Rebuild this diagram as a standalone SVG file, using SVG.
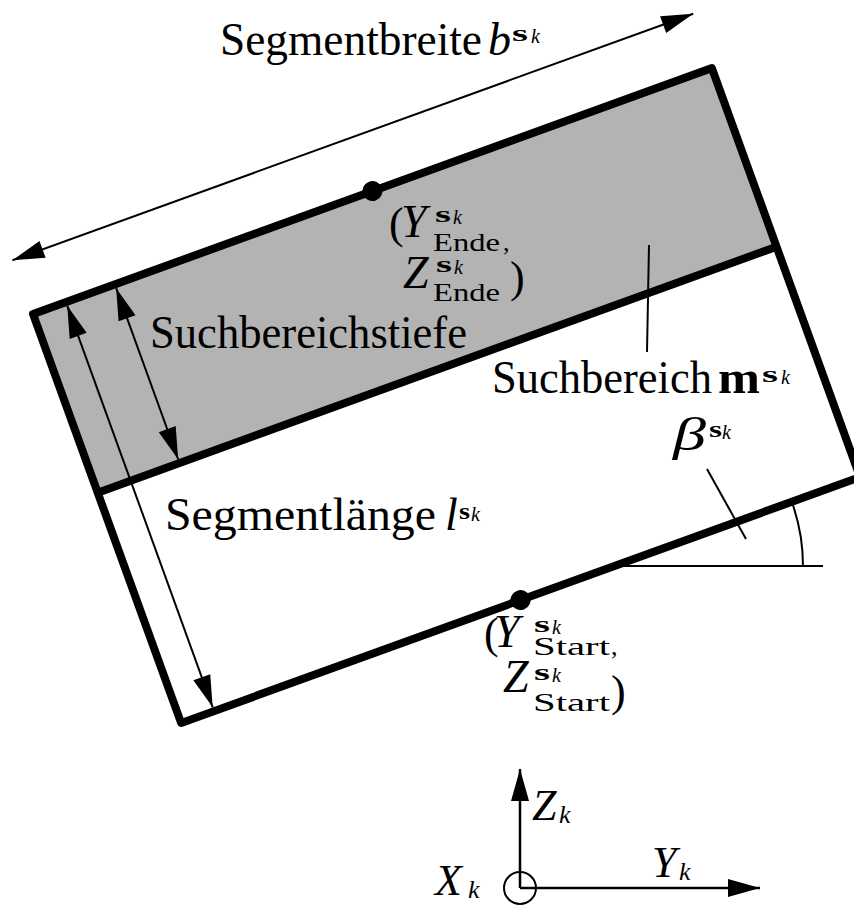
<svg xmlns="http://www.w3.org/2000/svg" width="854" height="905" viewBox="0 0 854 905">
<style>
text{font-family:"Liberation Serif","DejaVu Serif",serif;fill:#000}
.t{font-size:46px}
.mi{font-size:46px;font-style:italic}
.sb{font-size:24px;font-weight:bold}
.sk{font-size:20px;font-style:italic}
.sub{font-size:26px}
.par{font-size:44px}
.ax{font-size:44px;font-style:italic}
.axk{font-size:26px;font-style:italic}
.thick{fill:none;stroke:#000;stroke-width:8;stroke-linejoin:round}
.thin{fill:none;stroke:#000;stroke-width:2}
</style>
<defs>
<marker id="ah" viewBox="0 -10 34 20" markerWidth="34" markerHeight="20" refX="32" refY="0" orient="auto-start-reverse" markerUnits="userSpaceOnUse" overflow="visible">
<path d="M0,-9 L32,0 L0,9 z" fill="#000"/>
</marker>
</defs>

<g id="segment" transform="translate(33 314) rotate(-19.91)">
<rect x="0" y="0" width="722" height="190" fill="#b3b3b3"/>
<rect class="thick" x="0" y="0" width="722" height="435"/>
<line class="thick" x1="0" y1="190" x2="722" y2="190"/>
<circle id="ende" cx="361" cy="0" r="10" fill="#000"/>
<circle id="start" cx="361" cy="435" r="10" fill="#000"/>
</g>

<g id="connectors">
<g transform="translate(33 314) rotate(-19.91)">
<line class="thin" x1="-1" y1="-57.5" x2="723" y2="-57.5" marker-start="url(#ah)" marker-end="url(#ah)"/>
<line class="thin" x1="87" y1="4" x2="87" y2="186" marker-start="url(#ah)" marker-end="url(#ah)"/>
<line class="thin" x1="35" y1="4" x2="35" y2="431" marker-start="url(#ah)" marker-end="url(#ah)"/>
</g>
<line class="thin" x1="649" y1="245" x2="647" y2="352"/>
<line class="thin" x1="707" y1="469" x2="746" y2="539"/>
<line class="thin" x1="613" y1="566" x2="823" y2="566"/>
<path class="thin" d="M791.5 501 A190 190 0 0 1 803 566"/>
</g>

<g id="axes">
<line class="thin" x1="520" y1="888" x2="520" y2="769" marker-end="url(#ah)" style="stroke-width:2.5"/>
<line class="thin" x1="520" y1="888" x2="760" y2="888" marker-end="url(#ah)" style="stroke-width:2.5"/>
<circle cx="520" cy="888" r="16" fill="none" stroke="#000" stroke-width="2"/>
<text class="ax" x="532" y="820">Z</text><text class="axk" x="559" y="823">k</text>
<text class="ax" x="435" y="895">X</text><text class="axk" x="468" y="898">k</text>
<text class="ax" x="652" y="877">Y</text><text class="axk" x="679" y="880">k</text>
</g>

<g id="label-breite">
<text class="t" x="220" y="55" textLength="262" lengthAdjust="spacingAndGlyphs">Segmentbreite</text>
<text class="mi" x="488" y="55">b</text>
<text class="sb" x="512" y="41" textLength="16" lengthAdjust="spacingAndGlyphs">s</text>
<text class="sk" x="531" y="43">k</text>
</g>

<g id="label-tiefe">
<text class="t" x="150" y="348" textLength="317" lengthAdjust="spacingAndGlyphs">Suchbereichstiefe</text>
</g>

<g id="label-suchbereich">
<text class="t" x="492" y="393" textLength="220" lengthAdjust="spacingAndGlyphs">Suchbereich</text>
<text class="t" x="718" y="393" font-weight="bold" textLength="42" lengthAdjust="spacingAndGlyphs">m</text>
<text class="sb" x="762" y="382" textLength="16" lengthAdjust="spacingAndGlyphs">s</text>
<text class="sk" x="781" y="384">k</text>
</g>

<g id="label-beta">
<text class="mi" x="673" y="450" textLength="33" lengthAdjust="spacingAndGlyphs">β</text>
<text class="sb" x="709" y="437" textLength="13" lengthAdjust="spacingAndGlyphs">s</text>
<text class="sk" x="722" y="439">k</text>
</g>

<g id="label-laenge">
<text class="t" x="165" y="530" textLength="271" lengthAdjust="spacingAndGlyphs">Segmentlänge</text>
<text class="mi" x="445" y="530">l</text>
<text class="sb" x="459" y="519" textLength="11" lengthAdjust="spacingAndGlyphs">s</text>
<text class="sk" x="471" y="521">k</text>
</g>

<g id="label-ende">
<text class="par" x="389" y="238">(</text>
<text class="mi" x="401" y="237">Y</text>
<text class="sb" x="435" y="222" textLength="16" lengthAdjust="spacingAndGlyphs">s</text>
<text class="sk" x="453" y="224">k</text>
<text class="sub" x="433" y="251" textLength="67" lengthAdjust="spacingAndGlyphs">Ende</text>
<text class="sub" x="503" y="251">,</text>
<text class="mi" x="403" y="288">Z</text>
<text class="sb" x="436" y="272" textLength="16" lengthAdjust="spacingAndGlyphs">s</text>
<text class="sk" x="454" y="274">k</text>
<text class="sub" x="433" y="301" textLength="67" lengthAdjust="spacingAndGlyphs">Ende</text>
<text class="par" x="510" y="292">)</text>
</g>

<g id="label-start">
<text class="par" x="484" y="648">(</text>
<text class="mi" x="494" y="647">Y</text>
<text class="sb" x="534" y="632" textLength="16" lengthAdjust="spacingAndGlyphs">s</text>
<text class="sk" x="552" y="634">k</text>
<text class="sub" x="533" y="655" textLength="77" lengthAdjust="spacingAndGlyphs">Start</text>
<text class="sub" x="611" y="655">,</text>
<text class="mi" x="503" y="692">Z</text>
<text class="sb" x="534" y="680" textLength="16" lengthAdjust="spacingAndGlyphs">s</text>
<text class="sk" x="552" y="682">k</text>
<text class="sub" x="533" y="711" textLength="77" lengthAdjust="spacingAndGlyphs">Start</text>
<text class="par" x="611" y="706">)</text>
</g>
</svg>
